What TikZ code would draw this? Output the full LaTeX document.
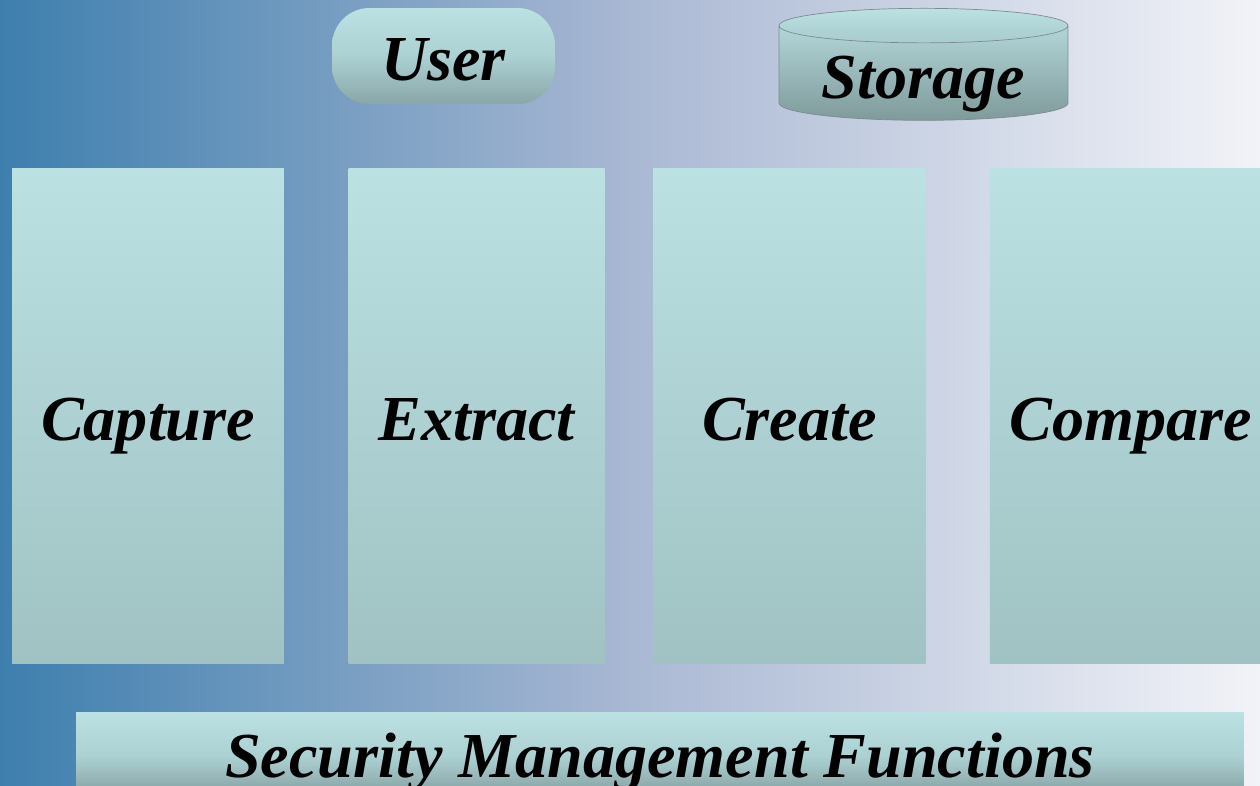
\documentclass[tikz,border=0pt]{standalone}
\usepackage{fontspec}
\setmainfont{Liberation Serif}
\usetikzlibrary{positioning, shapes.geometric}
\definecolor{bgleft}{HTML}{3E7FAE}
\definecolor{bgmid}{HTML}{A9B8D3}
\definecolor{bgright}{HTML}{F2F3F8}
\definecolor{aqtop}{HTML}{BBE1E3}
\definecolor{aqbot}{HTML}{A0C2C3}
\definecolor{aqmid}{HTML}{ACD1D3}
\definecolor{aqdark}{HTML}{7F9A9B}
\definecolor{rimgray}{HTML}{7E8C8E}
\tikzset{
  lbl/.style={
    font=\fontsize{36.5}{44}\selectfont\bfseries\itshape, text=black,
    text height=1.0cm, text depth=0pt, inner sep=0pt
  },
  stage/.style={
    lbl, rectangle, top color=aqtop, bottom color=aqbot,
    minimum width=#1, minimum height=9.92cm
  },
  stage/.default=5.44cm,
  actor/.style={
    lbl, rectangle, rounded corners=0.75cm,
    top color=aqtop, bottom color=aqdark!70!aqbot, middle color=aqmid,
    minimum width=4.46cm, minimum height=1.92cm
  },
  store/.style={
    lbl, cylinder, shape border rotate=90, aspect=0.17,
    draw=rimgray, line width=0.4pt,
    top color=aqtop, bottom color=aqdark,
    minimum width=5.78cm, minimum height=2.24cm
  },
  layer/.style={
    lbl, rectangle, text height=0.84cm,
    top color=aqtop, bottom color=aqdark, middle color=aqmid,
    minimum width=23.36cm, minimum height=1.76cm
  }
}
\begin{document}
\begin{tikzpicture}[x=0.02cm, y=-0.02cm]
  \useasboundingbox (0,0) rectangle (1260,786);
  \shade[left color=bgleft, right color=bgright, middle color=bgmid] (0,0) rectangle (1260,786);

  % top row
  \node[actor] (usr) at (443.5,56) {User};
  \node[store, anchor=north] (stor) at (923.5,8) {Storage};

  % the four stages
  \node[stage] (cap) at (148,416) {Capture};
  \node[stage=5.12cm, right=1.28cm of cap] (ext) {Extract};
  \node[stage, right=0.96cm of ext] (crt) {Create};
  \node[stage=5.64cm, right=1.28cm of crt] (cmp) {Compare};

  % bottom bar
  \node[layer] (smf) at (660,756) {Security Management Functions};
\end{tikzpicture}
\end{document}
